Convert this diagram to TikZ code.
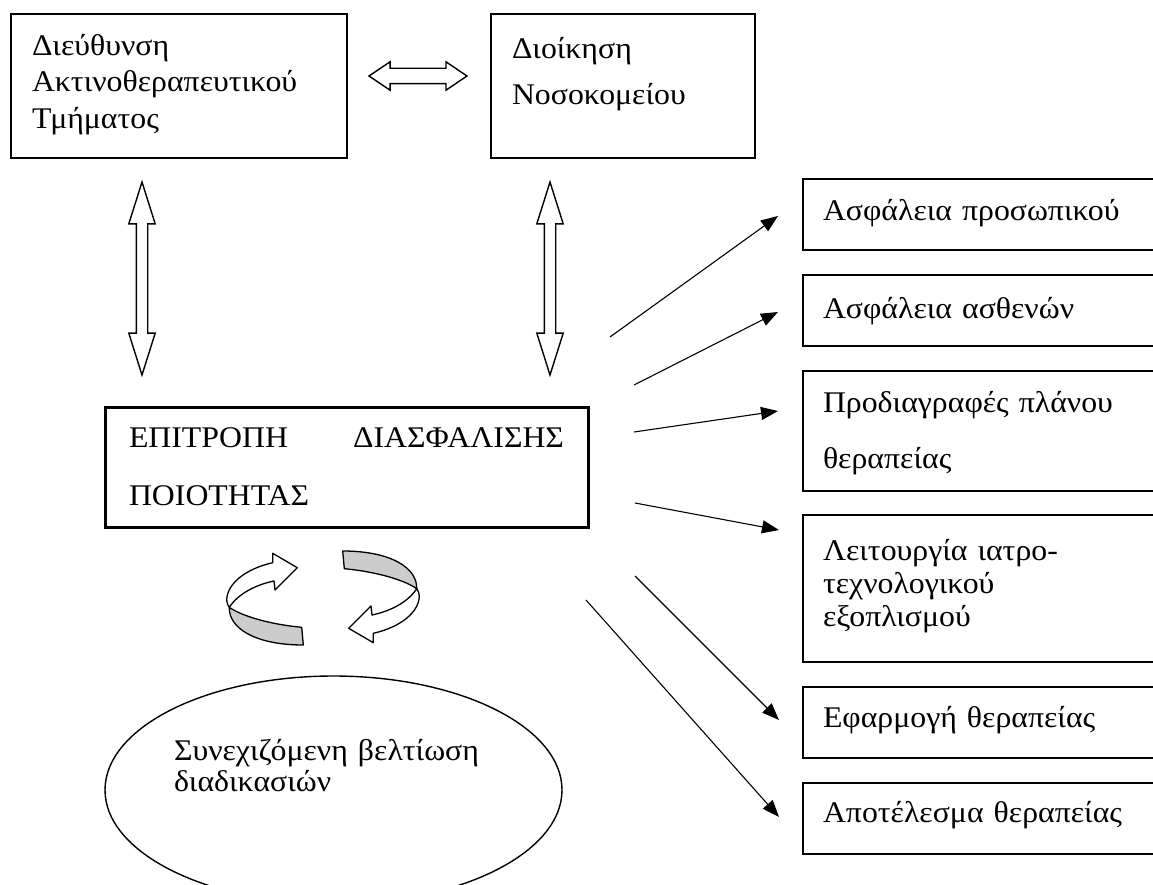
\documentclass[tikz,border=0pt]{standalone}
\usepackage{fontspec}
\setmainfont{Liberation Serif}[FakeStretch=1.06]
\usetikzlibrary{arrows.meta,shapes.arrows,shapes.geometric,calc}
\hyphenpenalty=10000 \exhyphenpenalty=10000
\definecolor{ribgray}{RGB}{204,204,204}
\newcommand\ribbonarrow{%
  \filldraw[ribbon,fill=white] (272.7,562.7) -- (272.7,553.3) -- (297.3,567.7) -- (275,590) -- (274,581)
     .. controls (255,585) and (238,594) .. (229.3,607.3)
     .. controls (228,605.5) and (226.7,603) .. (226.7,600)
     .. controls (227,584) and (245,569) .. (272.7,562.7) -- cycle;
  \filldraw[ribbon,fill=ribgray] (229.3,607.3) .. controls (228.5,628) and (255,645) .. (303.3,645)
     -- (301.7,627.3) .. controls (266.7,624) and (240,615) .. (229.3,607.3) -- cycle;
}
\newcommand\fs[1]{\fontsize{30}{#1}\selectfont}
\begin{document}
\begin{tikzpicture}[x=1pt,y=-1pt,
  box/.style={draw,line width=1.4pt,rectangle,inner ysep=0pt,outer sep=0pt,align=left},
  dbl/.style={double arrow,draw,line width=1.4pt,fill=white,inner xsep=0pt,minimum width=0pt,outer sep=0pt},
  conn/.style={line width=1.1pt,-{Triangle[length=17pt,width=13pt]}},
  ribbon/.style={draw,line width=1.3pt,line join=round},
]
\useasboundingbox (0,0) rectangle (1153,885);
\clip (0,0) rectangle (1153,885);

% top boxes
\node[box,minimum width=336pt,minimum height=144pt,inner xsep=21pt,text width=294pt,
      text height=41.5pt,text depth=102.5pt,font=\fs{36.5}]
  (tl) at (179,86) {Διεύθυνση\\Ακτινοθεραπευτικού\\Τμήματος};
\node[box,minimum width=264pt,minimum height=144pt,inner xsep=21pt,text width=222pt,
      text height=45pt,text depth=99pt,font=\fs{46}]
  (tr) at (623,86) {Διοίκηση\\Νοσοκομείου};

% central box
\node[box,line width=3pt,minimum width=483pt,minimum height=120pt,inner xsep=24pt,text width=435pt,
      text height=40pt,text depth=80pt,font=\fs{58}]
  (c) at (346.5,467) {ΕΠΙΤΡΟΠΗ\hfill ΔΙΑΣΦΑΛΙΣΗΣ\\ΠΟΙΟΤΗΤΑΣ};

% right boxes
\tikzset{rbox/.style={box,minimum width=357pt,inner xsep=20pt,text width=317pt}}
\node[rbox,minimum height=71pt,text height=42pt,text depth=29pt,font=\fs{34}]
  (r1) at (981.5,214.5) {Ασφάλεια προσωπικού};
\node[rbox,minimum height=71pt,text height=43pt,text depth=28pt,font=\fs{34}]
  (r2) at (981.5,310.5) {Ασφάλεια ασθενών};
\node[rbox,minimum height=120pt,text height=41pt,text depth=79pt,font=\fs{56}]
  (r3) at (981.5,431) {Προδιαγραφές πλάνου\\θεραπείας};
\node[rbox,minimum height=147pt,text height=45pt,text depth=102pt,font=\fs{33}]
  (r4) at (981.5,588.5) {Λειτουργία ιατρο-\\τεχνολογικού\\εξοπλισμού};
\node[rbox,minimum height=71pt,text height=40pt,text depth=31pt,font=\fs{34}]
  (r5) at (981.5,722.5) {Εφαρμογή θεραπείας};
\node[rbox,minimum height=71pt,text height=39pt,text depth=32pt,font=\fs{34}]
  (r6) at (981.5,818.5) {Αποτέλεσμα θεραπείας};

% ellipse
\node[draw,ellipse,line width=1.4pt,minimum width=457pt,minimum height=228pt,inner sep=0pt,
      text width=319pt,align=left,text height=20pt,text depth=80pt,font=\fs{31}]
  (el) at (333.5,790) {Συνεχιζόμενη βελτίωση\\διαδικασιών};

% double arrows
\node[dbl,minimum height=98pt,inner ysep=7pt,double arrow head extend=6.5pt,double arrow tip angle=68]
  (dh) at (418,76) {};
\node[dbl,rotate=90,minimum height=193pt,inner ysep=5pt,double arrow head extend=7.5pt,double arrow tip angle=35]
  (dl) at (142,278.5) {};
\node[dbl,rotate=90,minimum height=193pt,inner ysep=5pt,double arrow head extend=7.5pt,double arrow tip angle=35]
  (dr) at (550,278.5) {};

% single arrows
\coordinate (s1) at (610,337);
\coordinate (s2) at (634,385);
\coordinate (s3) at (634,432);
\coordinate (s4) at (635,503);
\coordinate (s5) at (635,576);
\coordinate (s6) at (586,600);
\coordinate (t1) at ($(r1.north west)+(-25,37)$);
\coordinate (t2) at ($(r2.north west)+(-25,37)$);
\coordinate (t3) at ($(r3.north west)+(-25,40)$);
\coordinate (t4) at ($(r4.north west)+(-24,15)$);
\coordinate (t5) at ($(r5.north west)+(-24,33)$);
\coordinate (t6) at ($(r6.north west)+(-24,34)$);
\foreach \i in {1,...,6} \draw[conn] (s\i) -- (t\i);

% cycle arrows
\ribbonarrow
\begin{scope}[rotate around={180:(323,598)}]
\ribbonarrow
\end{scope}
\end{tikzpicture}
\end{document}
